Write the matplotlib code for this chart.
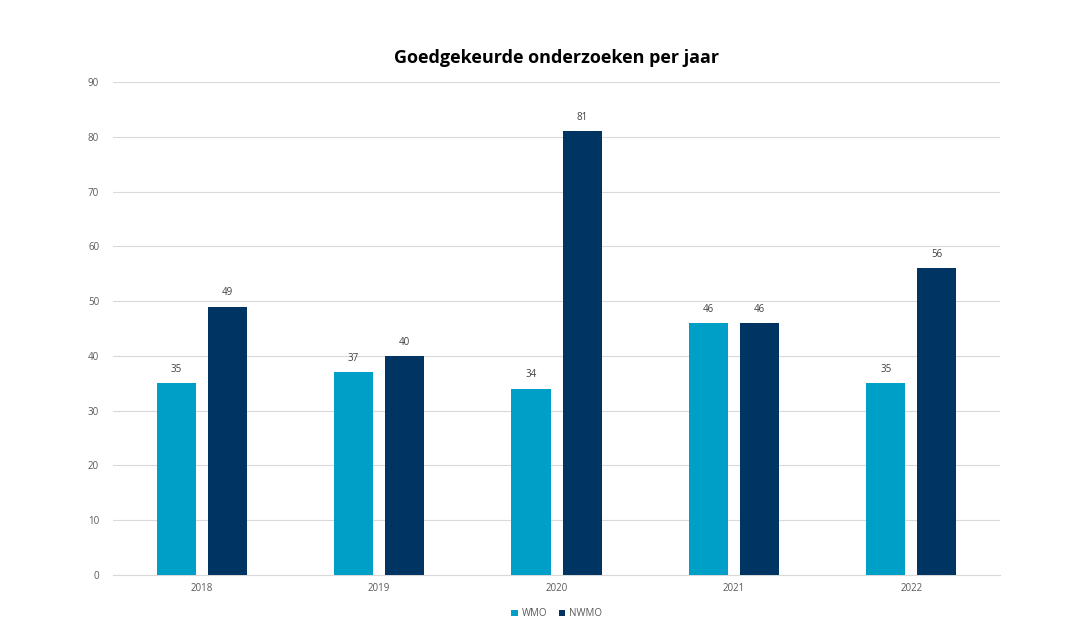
import matplotlib.pyplot as plt
import numpy as np

years = ['2018', '2019', '2020', '2021', '2022']
wmo = [35, 37, 34, 46, 35]
nwmo = [49, 40, 81, 46, 56]

WMO_COLOR = '#009FC8'
NWMO_COLOR = '#003462'

plt.rcParams['font.family'] = ['Open Sans', 'DejaVu Sans']

fig = plt.figure(figsize=(10.92, 6.4), dpi=100)
ax = fig.add_axes([0.1035, 0.1016, 0.8123, 0.7703])

x = np.arange(len(years))
width = 0.22
offset = 0.144

b1 = ax.bar(x - offset, wmo, width, color=WMO_COLOR, label='WMO', zorder=3)
b2 = ax.bar(x + offset, nwmo, width, color=NWMO_COLOR, label='NWMO', zorder=3)

for bars in (b1, b2):
    for bar in bars:
        h = bar.get_height()
        ax.annotate(f'{h:.0f}', (bar.get_x() + bar.get_width() / 2, h),
                    xytext=(0, 6), textcoords='offset points',
                    ha='center', va='bottom', fontsize=7, color='#404040')

ax.set_xlim(-0.5, len(years) - 0.5)
ax.set_ylim(0, 90)
ax.set_yticks(range(0, 91, 10))
ax.set_xticks(x)
ax.set_xticklabels(years)
ax.tick_params(axis='both', length=0, labelsize=7, labelcolor='#595959')
ax.tick_params(axis='y', pad=10)
ax.tick_params(axis='x', pad=6)

ax.grid(axis='y', color='#d9d9d9', linewidth=0.8, zorder=0)
for s in ['top', 'right', 'left']:
    ax.spines[s].set_visible(False)
ax.spines['bottom'].set_color('#d9d9d9')

ax.set_title('Goedgekeurde onderzoeken per jaar', fontsize=13, fontweight='bold',
             color='#000000', pad=14)

ax.legend(loc='upper center', bbox_to_anchor=(0.5, -0.05), ncol=2, frameon=False,
          fontsize=7, handlelength=0.7, handleheight=0.7, columnspacing=1.2,
          handletextpad=0.4, labelcolor='#595959')

plt.savefig('out.png', dpi=100)
